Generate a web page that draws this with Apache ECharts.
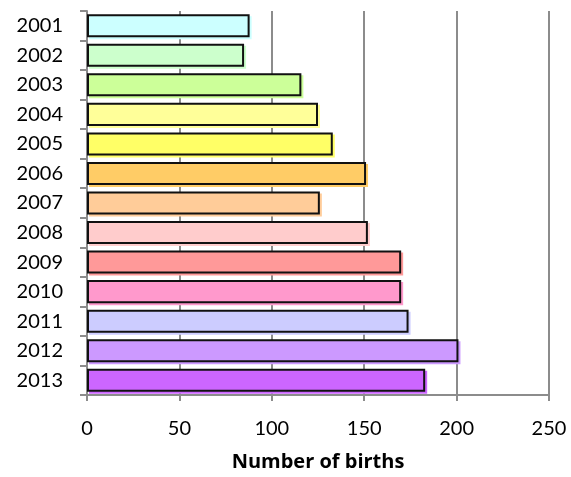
<!DOCTYPE html>
<html>
<head>
<meta charset="utf-8">
<script src="https://cdn.jsdelivr.net/npm/echarts@6/dist/echarts.min.js"></script>
<style>html,body{margin:0;padding:0;background:#fff}#c{width:571px;height:477px}</style>
</head>
<body>
<div id="c"></div>
<script>
const years = ['2001','2002','2003','2004','2005','2006','2007','2008','2009','2010','2011','2012','2013'];
const births = [88, 85, 116, 125, 133, 151, 126, 152, 170, 170, 174, 201, 183];
const barColors = ['#CCFFFF','#CCFFCC','#CCFF99','#FFFF99','#FFFF66','#FFCC66','#FFCC99','#FFCCCC','#FF9999','#FF99CC','#CCCCFF','#CC99FF','#CC66FF'];
const xTicks = [0, 50, 100, 150, 200, 250];
const xName = 'Number of births';

const chart = echarts.init(document.getElementById('c'), null, {renderer:'canvas'});
const font = 'Lato, "Open Sans", sans-serif';
chart.setOption({
  animation: false,
  grid: {left: 87, right: 22, top: 11, bottom: 77, containLabel: false},
  xAxis: {
    type: 'value', min: xTicks[0], max: xTicks[xTicks.length-1], interval: 50,
    name: xName, nameLocation: 'middle', nameGap: 57,
    nameTextStyle: {fontFamily: '"Open Sans", sans-serif', fontSize: 20, fontWeight: 'bold', color: '#000'},
    axisLine: {show: true, lineStyle: {color: '#8c8c8c', width: 2}},
    axisTick: {show: true, length: 6, lineStyle: {color: '#8c8c8c', width: 2}},
    splitLine: {show: true, lineStyle: {color: '#8c8c8c', width: 2}},
    axisLabel: {fontFamily: font, fontSize: 20, color: '#000', margin: 24}
  },
  yAxis: {
    type: 'category', data: years, inverse: true,
    axisLine: {show: true, lineStyle: {color: '#8c8c8c', width: 2}},
    axisTick: {show: true, length: 7, lineStyle: {color: '#8c8c8c', width: 2}},
    axisLabel: {fontFamily: font, fontSize: 20, color: '#000', margin: 24}
  },
  series: [{
    type: 'bar',
    barCategoryGap: '22%',
    data: births.map((v, i) => ({
      value: v,
      itemStyle: {
        color: barColors[i], borderColor: '#111', borderWidth: 2,
        shadowColor: barColors[i], shadowOffsetX: 2, shadowOffsetY: 2, shadowBlur: 0
      }
    }))
  }]
});
</script>
</body>
</html>
